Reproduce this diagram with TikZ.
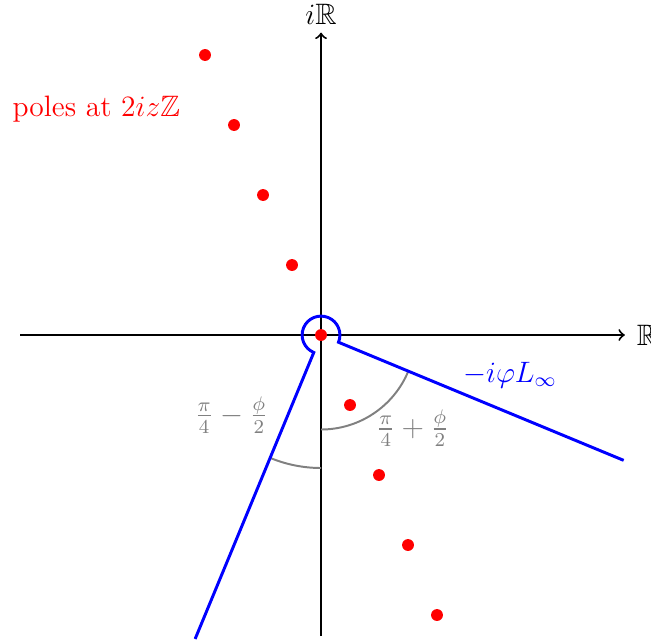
\documentclass[tikz,border=0pt]{standalone}
\usepackage{amsmath,amssymb}
\usepackage{tikz}

\begin{document}
\begin{tikzpicture}[
  font=\large,
  axis/.style={->, thick},
  contour/.style={blue, line width=1.2pt},
  angarc/.style={gray, line width=0.8pt},
  pole/.style={red},
  lbl/.style={inner sep=1pt}
]
\useasboundingbox (-4.586,-4.343) rectangle (4.714,4.786);
% axes
\draw[axis] (-4.3,0) -- (4.34,0);
\draw[axis] (0,-4.3) -- (0,4.32);
\node[lbl, anchor=west] (re) at (4.47,0) {$\mathbb{R}$};
\node[lbl] (im) at (0,4.58) {$i\mathbb{R}$};
% angles
\draw[angarc] (0,-1.35) arc[start angle=-90, end angle=-22.5, radius=1.35];
\draw[angarc] (-112.5:1.9) arc[start angle=-112.5, end angle=-90, radius=1.9];
% contour
\draw[contour] (-112.5:4.7) -- (-112.5:0.27)
  arc[start angle=247.5, end angle=-22.5, radius=0.27] -- (-22.5:4.68);
% poles
\foreach \k in {-4,...,4}
  \fill[pole] (-0.4142*\k,\k) circle (0.085);
\node[lbl, red] (poles) at (-3.21,3.23) {poles at $2iz\mathbb{Z}$};
\node[lbl, blue] (linf) at (2.7,-0.57) {$-i\varphi L_\infty$};
\node[lbl, gray] (aplus) at (1.31,-1.33) {$\frac{\pi}{4}+\frac{\phi}{2}$};
\node[lbl, gray] (aminus) at (-1.28,-1.14) {$\frac{\pi}{4}-\frac{\phi}{2}$};
\end{tikzpicture}
\end{document}
